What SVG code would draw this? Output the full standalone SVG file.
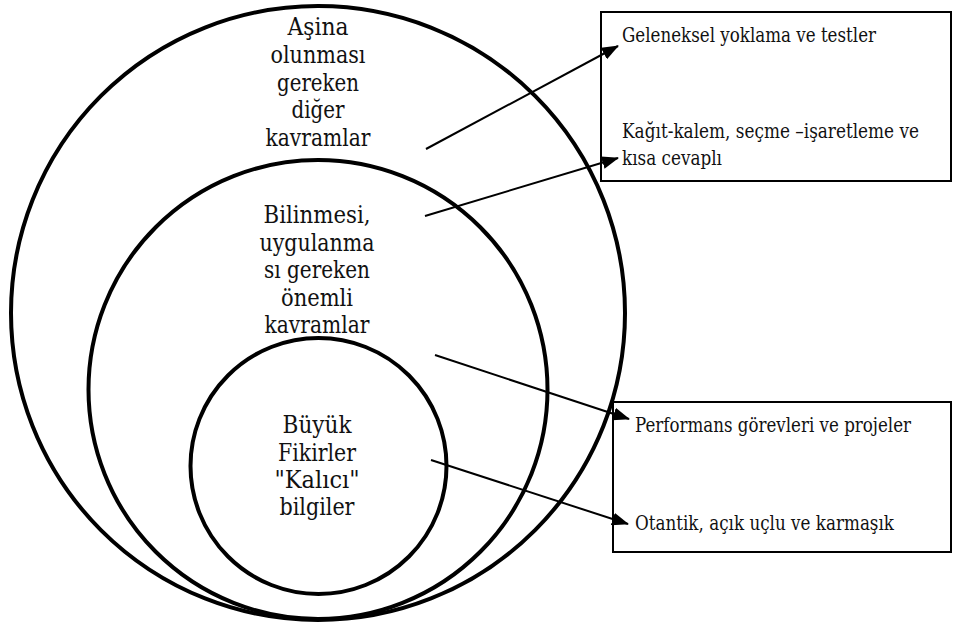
<svg xmlns="http://www.w3.org/2000/svg" width="953" height="625" viewBox="0 0 953 625">
  <style>
    .ring { fill: none; stroke: #000; stroke-width: 4; }
    .box { fill: #fff; stroke: #000; stroke-width: 2; }
    .lbl { font-family: "DejaVu Serif", serif; font-size: 24px; fill: #111; text-anchor: middle; }
    .btxt { font-family: "DejaVu Serif", serif; font-size: 19.5px; fill: #111; }
    .conn { fill: none; stroke: #000; stroke-width: 2; }
  </style>
  <defs>
    <marker id="arrow" markerUnits="userSpaceOnUse" markerWidth="17" markerHeight="13" viewBox="0 0 17 13" refX="16" refY="6.5" orient="auto">
      <path d="M0,0 L17,6.5 L0,13 z" fill="#000"/>
    </marker>
  </defs>
  <rect width="953" height="625" fill="#fff"/>

  <g id="box-top">
    <rect class="box" x="601" y="12" width="350" height="169"/>
    <text class="btxt" x="622" y="42" textLength="254" lengthAdjust="spacingAndGlyphs">Geleneksel yoklama ve testler</text>
    <text class="btxt" x="622" y="138" textLength="297" lengthAdjust="spacingAndGlyphs">Kağıt-kalem, seçme –işaretleme ve</text>
    <text class="btxt" x="622" y="165" textLength="100" lengthAdjust="spacingAndGlyphs">kısa cevaplı</text>
  </g>

  <g id="box-bottom">
    <rect class="box" x="613" y="402" width="338" height="150"/>
    <text class="btxt" x="635" y="432" textLength="276" lengthAdjust="spacingAndGlyphs">Performans görevleri ve projeler</text>
    <text class="btxt" x="635" y="530" textLength="259" lengthAdjust="spacingAndGlyphs">Otantik, açık uçlu ve karmaşık</text>
  </g>

  <g id="outer-circle">
    <circle class="ring" cx="318" cy="313" r="307"/>
    <text class="lbl" x="318" y="35" textLength="61" lengthAdjust="spacingAndGlyphs">Aşina</text>
    <text class="lbl" x="318" y="62.75" textLength="95" lengthAdjust="spacingAndGlyphs">olunması</text>
    <text class="lbl" x="318" y="90.5" textLength="82" lengthAdjust="spacingAndGlyphs">gereken</text>
    <text class="lbl" x="318" y="118.25" textLength="53" lengthAdjust="spacingAndGlyphs">diğer</text>
    <text class="lbl" x="318" y="146" textLength="105" lengthAdjust="spacingAndGlyphs">kavramlar</text>
  </g>

  <g id="middle-circle">
    <circle class="ring" cx="318" cy="389.5" r="229.5"/>
    <text class="lbl" x="317" y="223" textLength="107" lengthAdjust="spacingAndGlyphs">Bilinmesi,</text>
    <text class="lbl" x="317" y="250.5" textLength="115" lengthAdjust="spacingAndGlyphs">uygulanma</text>
    <text class="lbl" x="317" y="278" textLength="106" lengthAdjust="spacingAndGlyphs">sı gereken</text>
    <text class="lbl" x="317" y="305.5" textLength="72" lengthAdjust="spacingAndGlyphs">önemli</text>
    <text class="lbl" x="317" y="333" textLength="105" lengthAdjust="spacingAndGlyphs">kavramlar</text>
  </g>

  <g id="inner-circle">
    <circle class="ring" cx="318.5" cy="466" r="128"/>
    <text class="lbl" x="317" y="433" textLength="69" lengthAdjust="spacingAndGlyphs">Büyük</text>
    <text class="lbl" x="317" y="460.5" textLength="78" lengthAdjust="spacingAndGlyphs">Fikirler</text>
    <text class="lbl" x="317" y="488" textLength="85" lengthAdjust="spacingAndGlyphs">"Kalıcı"</text>
    <text class="lbl" x="317" y="515" textLength="75" lengthAdjust="spacingAndGlyphs">bilgiler</text>
  </g>

  <g id="connectors">
    <line class="conn" x1="426" y1="149" x2="618" y2="46" marker-end="url(#arrow)"/>
    <line class="conn" x1="425" y1="216" x2="618" y2="158" marker-end="url(#arrow)"/>
    <line class="conn" x1="435" y1="355" x2="629" y2="419" marker-end="url(#arrow)"/>
    <line class="conn" x1="431" y1="460" x2="628" y2="524" marker-end="url(#arrow)"/>
  </g>
</svg>
